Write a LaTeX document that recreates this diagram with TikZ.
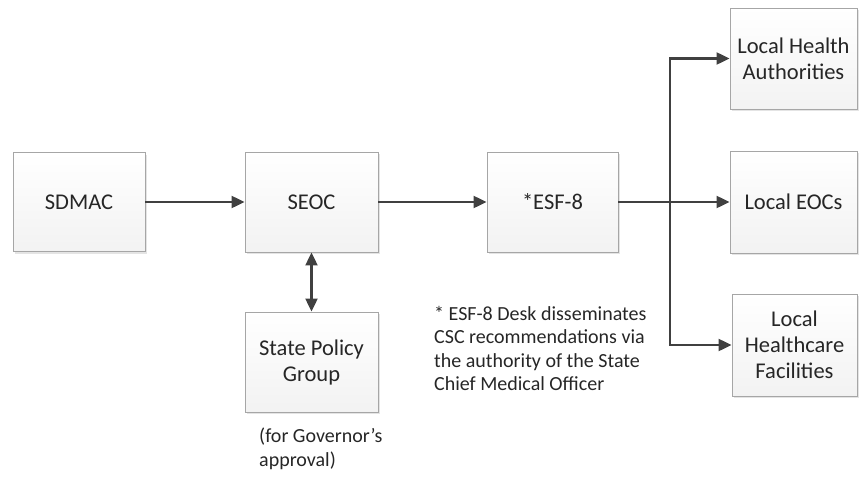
\documentclass[tikz,border=0pt]{standalone}
\usepackage{fontspec}
\setmainfont{Carlito}
\usetikzlibrary{arrows.meta,shadows}
\definecolor{arrowc}{HTML}{404040}
\definecolor{boxline}{HTML}{A6A6A6}
\tikzset{
  box/.style={draw=boxline, line width=0.9pt, top color=white, bottom color=gray!10,
    drop shadow={shadow xshift=2pt, shadow yshift=-2pt, fill=gray!35, opacity=0.6},
    align=center, inner sep=2pt, font=\fontsize{22.5}{26}\selectfont, text=black!85},
  conn/.style={draw=arrowc, line width=2.2pt, -{Triangle[length=13pt,width=12pt]}},
  dconn/.style={draw=arrowc, line width=2.2pt, {Triangle[length=13pt,width=12pt]}-{Triangle[length=13pt,width=12pt]}},
  note/.style={align=left, font=\fontsize{20}{23.5}\selectfont, text=black!85, inner sep=0pt}
}
\begin{document}
\begin{tikzpicture}[x=1pt,y=-1pt]
\useasboundingbox (0,0) rectangle (859,479);
\node[box, minimum width=132pt, minimum height=99pt] (sdmac) at (79,202) {SDMAC};
\node[box, minimum width=133pt, minimum height=100pt] (seoc) at (311.5,202) {SEOC};
\node[box, minimum width=133pt, minimum height=100pt] (spg) at (311.5,362) {State Policy\\Group};
\node[box, minimum width=131pt, minimum height=100pt] (esf) at (552.5,202) {*ESF-8};
\node[box, minimum width=127pt, minimum height=101pt] (lha) at (793.5,58.5) {Local Health\\Authorities};
\node[box, minimum width=127pt, minimum height=102pt] (leoc) at (793.5,202) {Local EOCs};
\node[box, minimum width=125pt, minimum height=102pt] (lhf) at (794.5,345) {Local\\Healthcare\\Facilities};
\node[note, anchor=north west] (txt) at (434,306) {* ESF-8 Desk disseminates\\CSC recommendations via\\the authority of the State\\Chief Medical Officer};
\node[note, anchor=north west] (gov) at (259,428) {(for Governor’s\\approval)};
\coordinate (br) at (670,202);
\draw[conn] (sdmac) -- (seoc);
\draw[conn] (seoc) -- (esf);
\draw[dconn] (seoc) -- (spg);
\draw[conn] (esf.east) -- (leoc.west);
\draw[conn] (br) |- (lha.west);
\draw[conn] (br) |- (lhf.west);
\end{tikzpicture}
\end{document}
